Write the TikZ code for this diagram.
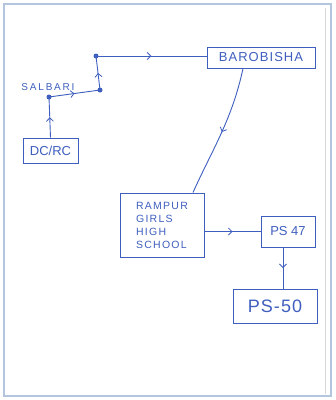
\documentclass[tikz,border=0pt]{standalone}
\usepackage{fontspec}
\setmainfont{Liberation Sans}
\usetikzlibrary{decorations.markings,arrows.meta}
\definecolor{ink}{HTML}{3F5FBF}
\definecolor{framec}{HTML}{B4C6DE}
\definecolor{edgec}{HTML}{D8D8D8}
\tikzset{
  box/.style={draw=ink, line width=0.9pt, text=ink, inner sep=2pt},
  flow/.style={draw=ink, line width=0.9pt, postaction={decorate},
    decoration={markings, mark=at position 0.5 with {\arrow[ink, line width=0.8pt]{Straight Barb[length=3.5pt,width=7pt]}}}},
  junction/.style={circle, fill=ink, inner sep=0pt, minimum size=5pt},
  lbl/.style={text=ink, font=\fontsize{10}{11}\selectfont\addfontfeature{LetterSpace=18}}
}
\begin{document}
\begin{tikzpicture}[x=1pt,y=-1pt]
\useasboundingbox (0,0) rectangle (336,400);
\fill[white] (0,0) rectangle (336,400);
\draw[framec, line width=1.5pt] (4,4) rectangle (331,396);
\draw[edgec, line width=0.8pt] (325,8) -- (325,394);

\node[box, minimum width=55pt, minimum height=25pt, font=\fontsize{13}{14}\selectfont] (dcrc) at (50.5,150.5) {DC/RC};
\node[box, minimum width=108pt, minimum height=21pt, font=\fontsize{13}{14}\selectfont\addfontfeature{LetterSpace=8}] (baro) at (261,57.5) {BAROBISHA};
\node[box, minimum width=84pt, minimum height=64pt, align=left, font=\fontsize{10.5}{13}\selectfont\addfontfeature{LetterSpace=12}] (rampur) at (162,225) {RAMPUR\\GIRLS\\HIGH\\SCHOOL};
\node[box, minimum width=54pt, minimum height=31pt, font=\fontsize{13}{14}\selectfont] (ps47) at (288,231.5) {PS 47};
\node[box, minimum width=84pt, minimum height=34pt, font=\fontsize{18}{19}\selectfont\addfontfeature{LetterSpace=6}] (ps50) at (275,306) {PS-50};

\node[junction] (s) at (49,97) {};
\node[junction] (j1) at (100,90) {};
\node[junction] (j2) at (96,56) {};
\node[lbl] (salb) at (48,87) {SALBARI};

\draw[flow] (dcrc.north) -- (s.center);
\draw[flow] (s.center) -- (j1.center);
\draw[flow] (j1.center) -- (j2.center);
\draw[flow] (j2.center) -- (j2.center -| baro.west);
\draw[flow] ([xshift=-18pt]baro.south) .. controls (232,120) and (212,150) .. ([xshift=31pt]rampur.north);
\draw[flow] (ps47.west -| rampur.east) -- (ps47.west);
\draw[flow] ([xshift=-5pt]ps47.south) -- ([xshift=8pt]ps50.north);
\end{tikzpicture}
\end{document}
